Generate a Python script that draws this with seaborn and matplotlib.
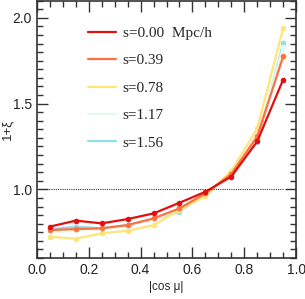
import numpy as np
import pandas as pd
import matplotlib
matplotlib.use("Agg")
import matplotlib.pyplot as plt
import seaborn as sns
from matplotlib.ticker import MultipleLocator

# data
mu = [0.05, 0.15, 0.25, 0.35, 0.45, 0.55, 0.65, 0.75, 0.85, 0.95]
xi_000 = [0.783, 0.818, 0.802, 0.827, 0.860, 0.922, 0.986, 1.075, 1.28, 1.64]
xi_039 = [0.763, 0.769, 0.773, 0.792, 0.831, 0.889, 0.977, 1.090, 1.31, 1.775]
xi_078 = [0.724, 0.713, 0.744, 0.759, 0.791, 0.880, 0.961, 1.108, 1.355, 1.94]
xi_117 = [0.752, 0.758, 0.770, 0.790, 0.828, 0.878, 0.968, 1.090, 1.30, 1.83]
xi_156 = [0.767, 0.783, 0.773, 0.792, 0.826, 0.870, 0.973, 1.087, 1.277, 1.852]
labels = ["s=0.00  Mpc/h", "s=0.39", "s=0.78", "s=1.17", "s=1.56"]
colors = ["#e01010", "#ff7040", "#ffe47a", "#e2fbea", "#8fe0ee"]

series = [xi_000, xi_039, xi_078, xi_117, xi_156]
df = pd.concat(
    [pd.DataFrame({"mu": mu, "xi": v, "s": lab}) for v, lab in zip(series, labels)],
    ignore_index=True,
)

sns.set_style("ticks")
plt.rcParams["font.family"] = ["Liberation Sans", "DejaVu Sans"]

fig = plt.figure(figsize=(3.05, 2.99), dpi=100)
ax = fig.add_axes([0.121, 0.137, 0.850, 0.861])

# draw in reverse so red is on top
for lab, col in reversed(list(zip(labels, colors))):
    sub = df[df["s"] == lab]
    sns.lineplot(data=sub, x="mu", y="xi", ax=ax, color=col, lw=1.6,
                 marker="o", markersize=4, markeredgewidth=0, label=None)

ax.hlines(1.0, 0.02, 0.95, colors="#333333", linestyles=(0, (1, 1)), lw=0.8)

ax.set_xlim(0, 1)
ax.set_ylim(0.6, 2.1)
ax.xaxis.set_major_locator(MultipleLocator(0.2))
ax.xaxis.set_minor_locator(MultipleLocator(0.05))
ax.yaxis.set_major_locator(MultipleLocator(0.5))
ax.yaxis.set_minor_locator(MultipleLocator(0.05))
ax.tick_params(which="both", direction="in", top=True, right=True,
               color="#333333", width=1.0, labelsize=10, labelcolor="#222222")
ax.tick_params(which="major", length=8)
ax.tick_params(which="minor", length=4)
for sp in ax.spines.values():
    sp.set_linewidth(1.2)
    sp.set_color("#333333")

ax.set_xlabel("|cos μ|", fontsize=8.5, labelpad=3)
ax.set_ylabel("1+ξ", fontsize=9.5)
ax.yaxis.set_label_coords(-0.09, 0.5)

handles = [plt.Line2D([], [], color=c, lw=1.6) for c in colors]
leg = ax.legend(handles, labels, loc="upper left", bbox_to_anchor=(0.196, 0.9),
                frameon=False, borderpad=0, borderaxespad=0,
                handlelength=1.85, handletextpad=0.45,
                labelspacing=0.9, prop={"family": "Liberation Serif", "size": 11})

fig.savefig("out.png", dpi=100)
